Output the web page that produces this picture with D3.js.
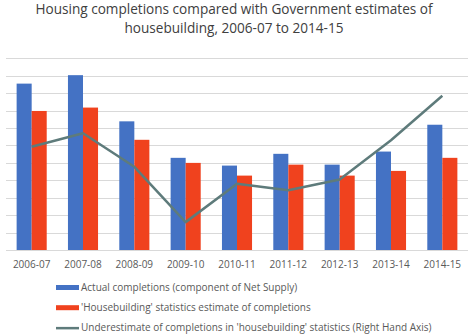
<!DOCTYPE html>
<html>
<head>
<meta charset="utf-8">
<script src="https://cdn.jsdelivr.net/npm/d3@7"></script>
<style>
  body { margin: 0; background: #fff; }
  svg { display: block; }
  text { font-family: "Open Sans", "Noto Sans", sans-serif; }
</style>
</head>
<body>
<svg id="chart" width="468" height="336"></svg>
<script>
// data
var years = ["2006-07", "2007-08", "2008-09", "2009-10", "2010-11", "2011-12", "2012-13", "2013-14", "2014-15"];
var actual = [191000, 200700, 147700, 105800, 96900, 110400, 98000, 113000, 143800];
var housebuilding = [159600, 163500, 126500, 100000, 85400, 98000, 85400, 90800, 105800];
// right hand axis
var underestimate = [23.7, 26.8, 19.1, 6.4, 15.2, 13.7, 16.2, 25.2, 35.4];
var legendLabels = [
    "Actual completions (component of Net Supply)",
    "'Housebuilding' statistics estimate of completions",
    "Underestimate of completions in 'housebuilding' statistics (Right Hand Axis)"
];
var colors = ["#4472c4", "#f0421e", "#5e7b7b"];

var svg = d3.select("#chart");
var plotTop = 54, plotBottom = 250, plotLeft = 6, plotRight = 468;

var x0 = d3.scaleBand().domain(years).range([plotLeft, plotRight]);
var pad = x0.bandwidth() * 0.207;
var x1 = d3.scaleBand().domain([0, 1]).range([pad, x0.bandwidth() - pad]);
var yL = d3.scaleLinear().domain([0, 225000]).range([plotBottom, plotTop]);
var yR = d3.scaleLinear().domain([0, 45]).range([plotBottom, plotTop]);

// title, two lines
var titleLines = ["Housing completions compared with Government estimates of", "housebuilding, 2006-07 to 2014-15"];
svg.append("g")
    .selectAll("text")
    .data(titleLines)
    .join("text")
    .attr("x", 234)
    .attr("y", function (d, i) { return 14 + i * 18.5; })
    .attr("text-anchor", "middle")
    .attr("fill", "#404040")
    .style("font-size", "13.6px")
    .text(function (d) { return d; });

// gridlines
svg.append("g")
    .selectAll("line")
    .data(yL.ticks(9))
    .join("line")
    .attr("x1", plotLeft)
    .attr("x2", plotRight)
    .attr("y1", function (d) { return Math.round(yL(d)) + 0.5; })
    .attr("y2", function (d) { return Math.round(yL(d)) + 0.5; })
    .attr("stroke", "#d9d9d9")
    .attr("stroke-width", 1);

// bars
var groups = svg.append("g")
    .selectAll("g")
    .data(years)
    .join("g")
    .attr("transform", function (d) { return "translate(" + x0(d) + ",0)"; });

groups.selectAll("rect")
    .data(function (d, i) { return [actual[i], housebuilding[i]]; })
    .join("rect")
    .attr("x", function (d, j) { return x1(j); })
    .attr("y", function (d) { return yL(d); })
    .attr("width", x1.bandwidth())
    .attr("height", function (d) { return plotBottom - yL(d); })
    .attr("fill", function (d, j) { return colors[j]; });

// line
var line = d3.line()
    .x(function (d, i) { return x0(years[i]) + x0.bandwidth() / 2; })
    .y(function (d) { return yR(d); });

svg.append("path")
    .datum(underestimate)
    .attr("d", line)
    .attr("fill", "none")
    .attr("stroke", colors[2])
    .attr("stroke-width", 2.5)
    .attr("stroke-linejoin", "round");

// x axis labels
svg.append("g")
    .selectAll("text")
    .data(years)
    .join("text")
    .attr("x", function (d) { return x0(d) + x0.bandwidth() / 2; })
    .attr("y", 268)
    .attr("text-anchor", "middle")
    .attr("fill", "#595959")
    .style("font-size", "10px")
    .text(function (d) { return d; });

// legend
var legend = svg.append("g")
    .selectAll("g")
    .data(legendLabels)
    .join("g")
    .attr("transform", function (d, i) { return "translate(56," + (287.5 + i * 20.2) + ")"; });

legend.append("rect")
    .attr("x", 0)
    .attr("y", function (d, i) { return i < 2 ? -2.5 : -1; })
    .attr("width", 23)
    .attr("height", function (d, i) { return i < 2 ? 5 : 2.5; })
    .attr("fill", function (d, i) { return colors[i]; });

legend.append("text")
    .attr("x", 25)
    .attr("y", 3.5)
    .attr("fill", "#595959")
    .style("font-size", "10px")
    .text(function (d) { return d; });
</script>
</body>
</html>
